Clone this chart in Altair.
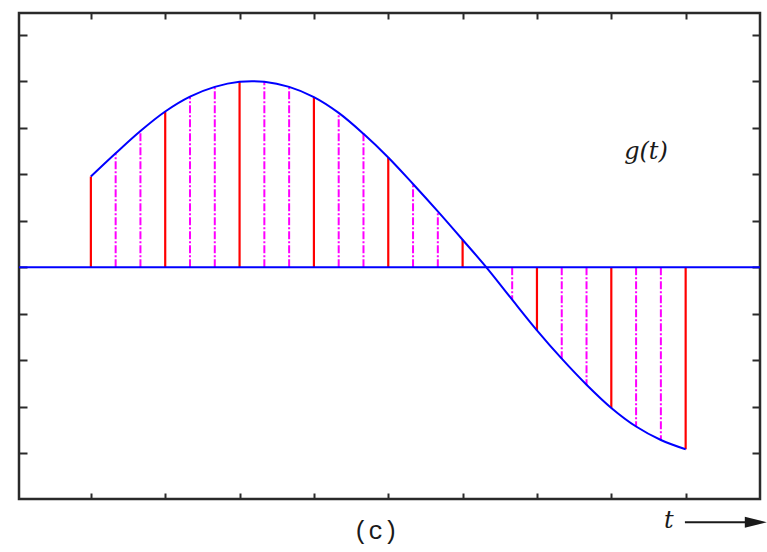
import altair as alt
import pandas as pd

# Sampled signal g(t): one value per sample index n
n_values = list(range(25))
g_values = [1.95, 2.45, 2.93, 3.35, 3.67, 3.88, 3.99, 3.99, 3.88, 3.66,
            3.32, 2.87, 2.36, 1.79, 1.20, 0.59, -0.03, -0.70, -1.36, -1.97,
            -2.53, -3.03, -3.43, -3.72, -3.92]

x_ticks = [0, 3, 6, 9, 12, 15, 18, 21, 24]
y_ticks = [-4, -3, -2, -1, 0, 1, 2, 3, 4, 5]
x_domain = [-2.9, 27.0]
y_domain = [-4.99, 5.47]

# annotation texts and their anchor points (data units)
label_text = ["g(t)", "(c)", "t"]
label_x = [22.4, 11.5, 23.32]
label_y = [2.48, -5.68, -5.46]
arrow_x = [23.97, 26.55]
arrow_y = -5.49
head_x = 26.83

BLUE = "#0000ff"
RED = "#ff0000"
MAGENTA = "#ff00ff"
FRAME = "#2a2a2a"
INK = "#1a1a1a"

W, H = 741, 486

df = pd.DataFrame({"n": n_values, "g": g_values})
df["zero"] = 0.0
df["kind"] = ["red" if k % 3 == 0 else "magenta" for k in n_values]

xs = alt.Scale(domain=x_domain, nice=False, zero=False)
ys = alt.Scale(domain=y_domain, nice=False, zero=False)

base = alt.Chart(df)

def x_axis(orient):
    return alt.Axis(orient=orient, values=x_ticks, labels=False, domain=False,
                    grid=False, tickSize=6, offset=-6, tickColor=FRAME,
                    tickWidth=2, tickOpacity=1, title=None)

def y_axis(orient):
    return alt.Axis(orient=orient, values=y_ticks, labels=False, domain=False,
                    grid=False, tickSize=8, offset=-8, tickColor=FRAME,
                    tickWidth=2, tickOpacity=1, title=None)

def qx(field):
    return alt.X(field, type="quantitative", scale=xs, axis=None)

def qy(field):
    return alt.Y(field, type="quantitative", scale=ys, axis=None)

# solid stems every third sample (carries bottom and left ticks)
red_stems = base.transform_filter(alt.datum.kind == "red").mark_rule(
    color=RED, strokeWidth=2.2
).encode(
    x=alt.X("n:Q", scale=xs, axis=x_axis("bottom")),
    y=alt.Y("zero:Q", scale=ys, axis=y_axis("left")),
    y2="g:Q",
)

# dash-dot stems for the in-between samples (carries top and right ticks)
mag_stems = base.transform_filter(alt.datum.kind == "magenta").mark_rule(
    color=MAGENTA, strokeWidth=2, strokeDash=[8, 2, 2, 2]
).encode(
    x=alt.X("n:Q", scale=xs, axis=x_axis("top")),
    y=alt.Y("zero:Q", scale=ys, axis=y_axis("right")),
    y2="g:Q",
)

# continuous signal through the samples
curve = base.mark_line(color=BLUE, strokeWidth=2,
                       interpolate="catmull-rom").encode(
    x=qx("n"), y=qy("g"),
)

# time axis line
zero_line = alt.Chart(pd.DataFrame({"v": [0.0]})).mark_rule(
    color=BLUE, strokeWidth=2
).encode(y=qy("v"))

labels_df = pd.DataFrame({"text": label_text, "x": label_x, "y": label_y})
g_label = alt.Chart(labels_df.iloc[[0]]).mark_text(
    font="DejaVu Serif", fontSize=24, fontStyle="italic", color=INK,
    clip=False
).encode(x=qx("x"), y=qy("y"), text="text:N")

c_label = alt.Chart(labels_df.iloc[[1]]).mark_text(
    font="Liberation Mono", fontSize=25, color=INK, clip=False
).encode(x=qx("x"), y=qy("y"), text="text:N")

t_label = alt.Chart(labels_df.iloc[[2]]).mark_text(
    font="DejaVu Serif", fontSize=24, fontStyle="italic", color=INK,
    clip=False
).encode(x=qx("x"), y=qy("y"), text="text:N")

arrow_df = pd.DataFrame({"x": [arrow_x[0]], "x2": [arrow_x[1]], "y": [arrow_y],
                         "hx": [head_x]})
arrow_shaft = alt.Chart(arrow_df).mark_rule(color=INK, strokeWidth=2,
                                            clip=False).encode(
    x=qx("x"), x2="x2:Q", y=qy("y")
)
arrow_head = alt.Chart(arrow_df).mark_point(
    shape="M-1,-0.5L1,0L-1,0.5Z", size=484, filled=True, color=INK,
    opacity=1, clip=False
).encode(x=qx("hx"), y=qy("y"))

chart = alt.layer(
    red_stems, mag_stems, zero_line, curve,
    g_label, c_label, t_label, arrow_shaft, arrow_head,
).resolve_axis(x="independent", y="independent").properties(
    width=W, height=H,
    autosize=alt.AutoSizeParams(type="none"),
    padding={"left": 19, "top": 13, "right": 7, "bottom": 53},
).configure(
    background="white"
).configure_view(
    stroke=FRAME, strokeWidth=2.5
)

chart.save("out.html", embed_options={"renderer": "svg", "actions": False})
